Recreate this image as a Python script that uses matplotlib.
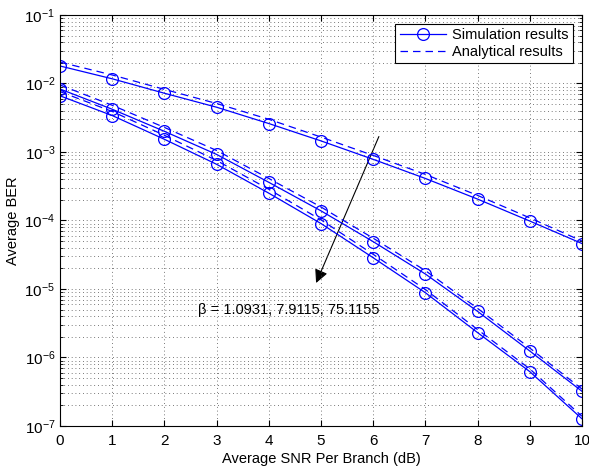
import numpy as np
import matplotlib
matplotlib.use('Agg')
import matplotlib.pyplot as plt
from matplotlib.patches import FancyArrowPatch
from matplotlib.ticker import LogLocator, NullFormatter

plt.rcParams['font.family'] = ['Liberation Sans', 'DejaVu Sans']
plt.rcParams['mathtext.fontset'] = 'custom'
plt.rcParams['mathtext.rm'] = 'Liberation Sans'
plt.rcParams['mathtext.it'] = 'Liberation Sans:italic'
plt.rcParams['mathtext.bf'] = 'Liberation Sans:bold'

snr = [0, 1, 2, 3, 4, 5, 6, 7, 8, 9, 10]

# simulation (beta = 1.0931, 7.9115, 75.1155)
sim_b1 = [0.018, 0.0117, 0.0072, 0.0045, 0.0026, 0.00145, 7.8e-4, 4.1e-4, 2.05e-4, 9.8e-5, 4.6e-5]
sim_b2 = [0.0083, 0.0042, 0.0020, 9.2e-4, 3.6e-4, 1.38e-4, 4.9e-5, 1.65e-5, 4.7e-6, 1.24e-6, 3.2e-7]
sim_b3 = [0.0066, 0.0034, 0.00153, 6.6e-4, 2.5e-4, 9.0e-5, 2.85e-5, 8.8e-6, 2.3e-6, 6.2e-7, 1.27e-7]

# analytical
ana_b1 = [0.0205, 0.0133, 0.0082, 0.0051, 0.0030, 0.00165, 8.9e-4, 4.7e-4, 2.32e-4, 1.09e-4, 5.0e-5]
ana_b2 = [0.0095, 0.0048, 0.00228, 0.00105, 4.1e-4, 1.57e-4, 5.5e-5, 1.85e-5, 5.2e-6, 1.37e-6, 3.45e-7]
ana_b3 = [0.0076, 0.0039, 0.00175, 7.5e-4, 2.85e-4, 1.02e-4, 3.2e-5, 9.8e-6, 2.55e-6, 6.8e-7, 1.38e-7]

xticks = list(range(0, 11))

fig = plt.figure(figsize=(5.89, 4.69), dpi=100)
ax = fig.add_axes([0.102, 0.092, 0.886, 0.876])

col = '#0000ff'
for i, (s, a) in enumerate([(sim_b1, ana_b1), (sim_b2, ana_b2), (sim_b3, ana_b3)]):
    ax.semilogy(snr, s, '-', color=col, lw=0.9, marker='o', mfc='none', mec=col,
                ms=8.5, mew=0.9, label='Simulation results' if i == 0 else None)
    ax.semilogy(snr, a, color=col, lw=0.9, dashes=(6, 4),
                label='Analytical results' if i == 0 else None)

ax.set_xlim(0, 10)
ax.set_ylim(1e-7, 1e-1)
ax.set_xticks(xticks)
ax.yaxis.set_major_locator(LogLocator(base=10, numticks=10))
ax.yaxis.set_minor_locator(LogLocator(base=10, subs=np.arange(2, 10), numticks=10))
ax.yaxis.set_minor_formatter(NullFormatter())

ax.grid(True, which='major', color='0.3', lw=0.6, linestyle=(0, (1, 3.5)))
ax.grid(True, which='minor', axis='y', color='0.3', lw=0.6, linestyle=(0, (1, 3.5)))
ax.tick_params(which='both', direction='in', top=True, right=True, labelsize=11)
ax.tick_params(which='major', length=4)
ax.tick_params(axis='x', which='major', pad=6)
ax.tick_params(which='minor', length=2)
for sp in ax.spines.values():
    sp.set_linewidth(0.8)

ax.set_xlabel('Average SNR Per Branch (dB)', fontsize=10.5, labelpad=3)
ax.set_ylabel('Average BER', fontsize=10.5, labelpad=3)

# arrow showing increasing beta
arrow = FancyArrowPatch((6.13, 1.83e-3), (4.885, 1.12e-5), arrowstyle='-|>',
                        color='k', lw=0.8, mutation_scale=20)
ax.add_patch(arrow)
ax.text(2.64, 4.9e-6, 'β = 1.0931, 7.9115, 75.1155', fontsize=10.5,
        va='center', ha='left')

leg = ax.legend(loc='upper right', fontsize=10.5, fancybox=False, framealpha=1,
                edgecolor='k', borderaxespad=0.6, handlelength=3.2,
                borderpad=0.3, labelspacing=0.2, handletextpad=0.4)
leg.get_frame().set_linewidth(0.8)

fig.savefig('out.png', dpi=100)
